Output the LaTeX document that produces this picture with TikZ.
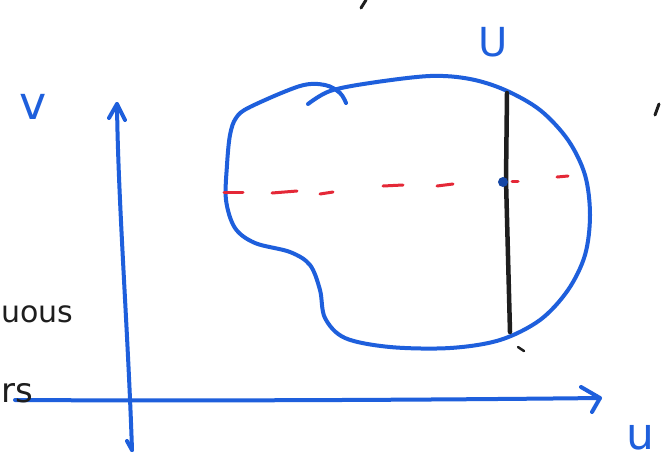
\documentclass[tikz,border=0pt]{standalone}
\usepackage{fontspec}
\setmainfont{DejaVu Sans}
\definecolor{penblue}{RGB}{30,95,220}
\definecolor{penred}{RGB}{228,40,55}
\definecolor{penblack}{RGB}{30,30,30}
\begin{document}
\begin{tikzpicture}[x=1pt,y=-1pt,
  bluepen/.style={draw=penblue,line width=4pt,line cap=round,line join=round},
  redpen/.style={draw=penred,line width=3pt,line cap=round},
  blackpen/.style={draw=penblack,line width=4.5pt,line cap=round},
  bluelabel/.style={text=penblue,inner sep=0pt},
  blacklabel/.style={text=penblack,inner sep=0pt}]
\useasboundingbox[fill=white] (0,0) rectangle (661,459);
% axes
\coordinate (vtop) at (117,104);
\coordinate (vbot) at (132,450);
\coordinate (hleft) at (15,400);
\coordinate (hright) at (600,398);
\draw[bluepen] (vbot) .. controls (128,330) and (118,200) .. (vtop);
\draw[bluepen] (109,118) -- (vtop) -- (125,120);
\draw[bluepen] (vbot) -- (127,441);
\draw[bluepen] (hleft) .. controls (200,401) and (420,400) .. (hright);
\draw[bluepen] (581,387) -- (hright) -- (592,412);
% region
\draw[bluepen] plot[smooth,tension=0.55] coordinates {(308,104) (330,91) (370,83) (430,76) (470,79) (505,90) (540,110) (568,140) (585,175) (590,215) (585,255) (568,290) (540,320) (500,340) (450,348) (390,347) (345,338) (325,318) (320,290) (310,265) (290,252) (255,243) (235,228) (226,200) (227,165) (230,135) (236,118) (250,107) (300,86) (325,85) (340,93) (346,103)};
% black vertical line
\coordinate (ltop) at (507,93);
\coordinate (lbot) at (510,332);
\draw[blackpen] (ltop) -- (506,180) -- (lbot);
\node[circle,fill=penblue!75!black,minimum size=10pt,inner sep=0pt] (dot) at (503,182) {};
\draw[penblack,line width=2.5pt,line cap=round] (518,347) -- (524,351);
% red dashes
\foreach \a/\b in {{(224,192)/(243,192)},{(272,193)/(297,191)},{(320,194)/(333,192)},{(383,186)/(403,185)},{(437,186)/(453,184)},{(512,181)/(518,181)},{(557,177)/(568,176)}}{
  \draw[redpen] \a -- \b;
}
% labels
\node[bluelabel,font=\fontsize{46}{46}\selectfont] (v) at (33,107) {v};
\node[bluelabel,font=\fontsize{40}{40}\selectfont] (U) at (493,42) {U};
\node[bluelabel,font=\fontsize{44}{44}\selectfont] (u) at (640,437) {u};
\node[blacklabel,font=\fontsize{30}{30}\selectfont,anchor=west] (uous) at (1,314) {uous};
\node[blacklabel,font=\fontsize{34}{34}\selectfont,anchor=west] (rs) at (1,393) {rs};
% stray marks of cut-off writing
\draw[penblack,line width=3pt,line cap=round] (361,8) -- (366,0);
\draw[penblack,line width=3pt,line cap=round] (655,115) -- (659,104);
\end{tikzpicture}
\end{document}
